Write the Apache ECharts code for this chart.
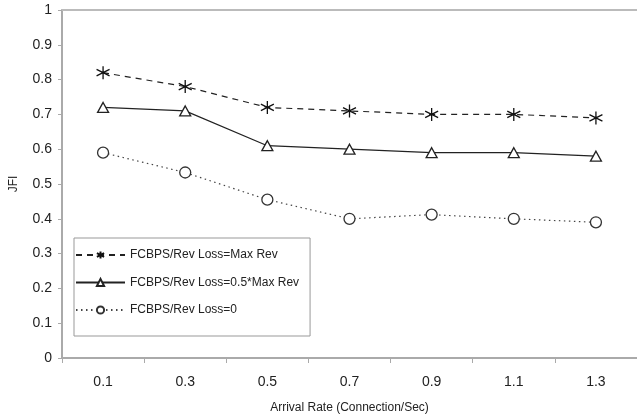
<!DOCTYPE html>
<html>
<head>
<meta charset="utf-8">
<script src="https://cdn.jsdelivr.net/npm/echarts@6/dist/echarts.min.js"></script>
<style>html,body{margin:0;padding:0;background:#fff}#c{width:637px;height:419px}</style>
</head>
<body>
<div id="c"></div>
<script>
const categories = ['0.1', '0.3', '0.5', '0.7', '0.9', '1.1', '1.3'];
const seriesNames = ['FCBPS/Rev Loss=Max Rev', 'FCBPS/Rev Loss=0.5*Max Rev', 'FCBPS/Rev Loss=0'];
const lossMaxRev = [0.82, 0.78, 0.72, 0.71, 0.70, 0.70, 0.69];
const lossHalfMaxRev = [0.72, 0.71, 0.61, 0.60, 0.59, 0.59, 0.58];
const lossZero = [0.59, 0.533, 0.455, 0.40, 0.412, 0.40, 0.39];

const FONT = '"Liberation Sans", Arial, Helvetica, sans-serif';
const asterisk = 'path://M5,0L5,10M0.7,2.5L9.3,7.5M0.7,7.5L9.3,2.5';

const chart = echarts.init(document.getElementById('c'));
chart.setOption({
  animation: false,
  backgroundColor: '#fff',
  textStyle: { fontFamily: FONT },
  grid: { left: 60, top: 10, right: -4, bottom: 61, containLabel: false },
  legend: {
    orient: 'vertical',
    left: 74, top: 238,
    padding: [11, 11, 20, 1],
    itemWidth: 49, itemHeight: 9, itemGap: 15.5,
    borderColor: '#999', borderWidth: 1,
    backgroundColor: '#fff',
    textStyle: { fontFamily: FONT, fontSize: 12, color: '#222' },
    data: seriesNames
  },
  xAxis: [{
    type: 'category',
    data: categories,
    boundaryGap: true,
    name: 'Arrival Rate (Connection/Sec)',
    nameLocation: 'middle',
    nameGap: 44,
    nameTextStyle: { fontFamily: FONT, fontSize: 12, color: '#222' },
    axisLine: { lineStyle: { color: '#aaa', width: 2 } },
    axisTick: { show: true, length: 5, lineStyle: { color: '#aaa' } },
    axisLabel: { fontFamily: FONT, fontSize: 14, color: '#222', margin: 17, interval: 0 },
    splitLine: { show: false }
  }, {
    type: 'category',
    data: categories,
    position: 'top',
    axisLine: { lineStyle: { color: '#bbb', width: 2 } },
    axisTick: { show: false },
    axisLabel: { show: false },
    splitLine: { show: false }
  }],
  yAxis: {
    type: 'value',
    min: 0, max: 1, interval: 0.1,
    name: 'JFI',
    nameLocation: 'middle',
    nameGap: 42,
    nameRotate: 90,
    nameTextStyle: { fontFamily: FONT, fontSize: 12, color: '#222' },
    axisLine: { show: true, lineStyle: { color: '#aaa', width: 2 } },
    axisTick: { show: true, length: 4, lineStyle: { color: '#aaa' } },
    axisLabel: { fontFamily: FONT, fontSize: 14, color: '#222', margin: 10 },
    splitLine: { show: false }
  },
  series: [{
    name: seriesNames[0],
    type: 'line',
    data: lossMaxRev,
    symbol: asterisk,
    symbolSize: 13,
    itemStyle: { color: '#111', borderColor: '#111', borderWidth: 1.3 },
    lineStyle: { color: '#222', width: 1.2, type: [6, 5] }
  }, {
    name: seriesNames[1],
    type: 'line',
    data: lossHalfMaxRev,
    symbol: 'triangle',
    symbolSize: [11, 10],
    itemStyle: { color: '#fff', borderColor: '#222', borderWidth: 1.3 },
    lineStyle: { color: '#222', width: 1.2, type: 'solid' }
  }, {
    name: seriesNames[2],
    type: 'line',
    data: lossZero,
    symbol: 'circle',
    symbolSize: 11,
    itemStyle: { color: '#fff', borderColor: '#333', borderWidth: 1.3 },
    lineStyle: { color: '#444', width: 1.2, type: [1.5, 3.5] }
  }]
});
</script>
</body>
</html>
